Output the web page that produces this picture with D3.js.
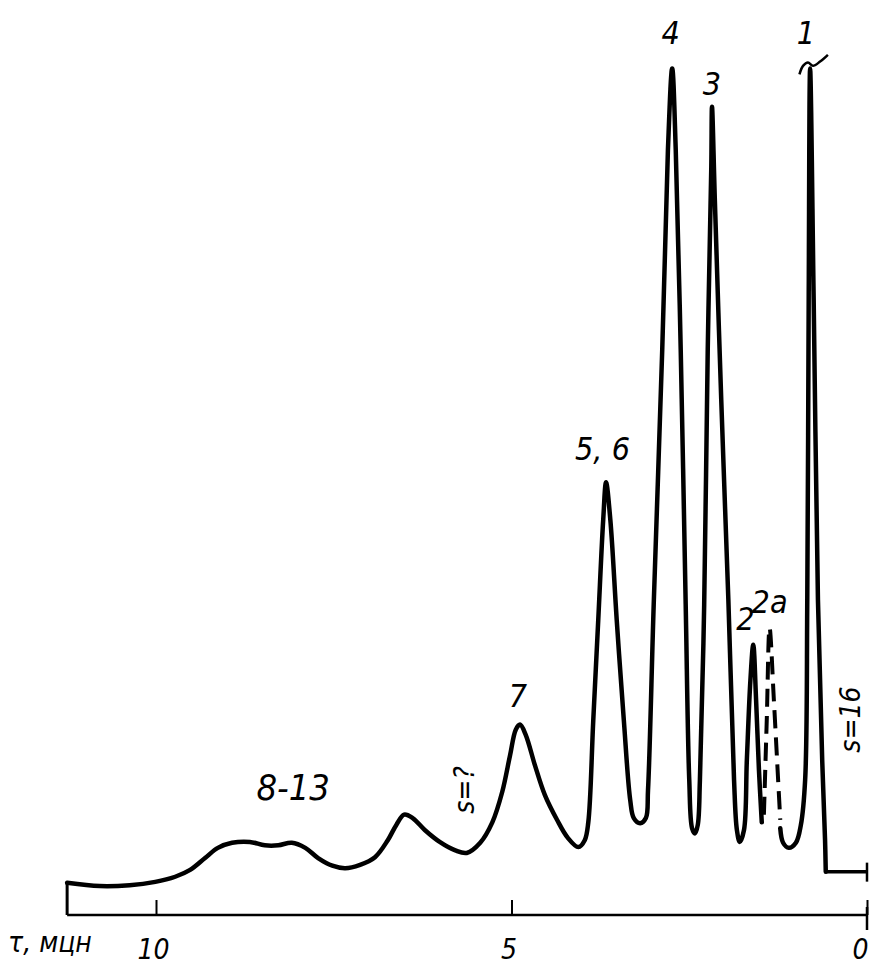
<!DOCTYPE html>
<html>
<head>
<meta charset="utf-8">
<script src="https://cdn.jsdelivr.net/npm/d3@7"></script>
<style>
  body { margin: 0; background: #fff; }
  text { font-family: "DejaVu Sans Condensed", "DejaVu Sans", sans-serif; font-stretch: condensed; font-style: oblique; fill: #000; }
</style>
</head>
<body>
<div id="chart"></div>
<script>
// retention time (min) and detector signal (arbitrary units, 0..100)
var traceMain = [
  [11.25, 3.8], [10.79, 3.4], [10.37, 3.5], [10.01, 3.9], [9.73, 4.5], [9.52, 5.3],
  [9.31, 6.7], [9.13, 7.9], [8.93, 8.5], [8.68, 8.6], [8.47, 8.2], [8.28, 8.2],
  [8.09, 8.5], [7.90, 7.9], [7.72, 6.7], [7.52, 5.8], [7.34, 5.5], [7.13, 5.9],
  [6.92, 6.8], [6.74, 8.8], [6.62, 10.6], [6.51, 11.8], [6.39, 11.4], [6.22, 10.0],
  [6.01, 8.6], [5.79, 7.6], [5.63, 7.3], [5.44, 8.5], [5.27, 10.9], [5.13, 14.5],
  [5.02, 18.8], [4.94, 21.8], [4.88, 22.4], [4.80, 21.2], [4.67, 17.6], [4.53, 14.1],
  [4.36, 11.2], [4.21, 9.1], [4.06, 8.0], [3.97, 8.8], [3.92, 10.9],
  [3.85, 22.9], [3.78, 34.7], [3.71, 46.5], [3.67, 50.9], [3.61, 46.5], [3.52, 34.7],
  [3.42, 22.9], [3.33, 13.5], [3.28, 11.4], [3.19, 10.8], [3.11, 11.4], [3.08, 14.7],
  [3.00, 36.5], [2.88, 66.5], [2.80, 90.0], [2.74, 99.6], [2.69, 90.0], [2.62, 66.5],
  [2.55, 36.5], [2.50, 15.9], [2.46, 10.2], [2.42, 9.6], [2.38, 10.6], [2.35, 15.9],
  [2.29, 36.5], [2.24, 66.5], [2.19, 88.0], [2.18, 95.1], [2.14, 84.1], [2.05, 60.6],
  [1.95, 37.1], [1.87, 15.9], [1.83, 10.0], [1.79, 8.6], [1.73, 10.0], [1.69, 18.2],
  [1.64, 27.6], [1.60, 31.8], [1.56, 25.3], [1.52, 17.1], [1.48, 10.9]
];
var trace2a = [
  [1.45, 11.8], [1.41, 22.9], [1.37, 33.8], [1.31, 25.3], [1.25, 15.9], [1.22, 11.2]
];
var traceTail = [
  [1.22, 10.2], [1.18, 8.5], [1.10, 7.9], [1.00, 8.5], [0.93, 10.6], [0.87, 15.9],
  [0.84, 37.1], [0.82, 72.4], [0.80, 99.6], [0.75, 72.4], [0.69, 37.1], [0.63, 18.2],
  [0.59, 8.8], [0.58, 5.1]
];
var solventStep = [[0.58, 5.1], [0.0, 5.1]];
var peak1Cap = [[0.95, 98.9], [0.90, 99.9], [0.83, 100.3], [0.76, 99.9], [0.66, 100.4], [0.55, 101.2]];

var tickValues = [0, 5, 10];
var axisTitle = 'τ, мцн';

var peakLabels = [
  { text: '1', t: 0.86, v: 102.5 },
  { text: '2', t: 1.71, v: 33.5 },
  { text: '2a', t: 1.37, v: 35.5 },
  { text: '3', t: 2.18, v: 96.5 },
  { text: '4', t: 2.76, v: 102.5 },
  { text: '5, 6', t: 3.72, v: 53.5 },
  { text: '7', t: 4.91, v: 24.5 },
  { text: '8-13', t: 8.07, v: 13.5 }
];
var sideLabels = [
  { text: 's=16', t: 0.24, v: 23.0 },
  { text: 's=?', t: 5.67, v: 14.7 }
];

var width = 872, height = 968;

var svg = d3.select('#chart')
  .append('svg')
  .attr('width', width)
  .attr('height', height);

var x = d3.scaleLinear().domain([0, 10]).range([867, 156]);
var y = d3.scaleLinear().domain([0, 100]).range([915, 65]);

var line = d3.line()
  .x(function (d) { return x(d[0]); })
  .y(function (d) { return y(d[1]); })
  .curve(d3.curveCatmullRom.alpha(0.5));

var straight = d3.line()
  .x(function (d) { return x(d[0]); })
  .y(function (d) { return y(d[1]); });

// time axis
svg.append('line')
  .attr('x1', x(11.25)).attr('x2', x(0))
  .attr('y1', y(0)).attr('y2', y(0))
  .attr('stroke', '#000').attr('stroke-width', 2.5);

var axis = svg.append('g')
  .attr('transform', 'translate(0,' + y(0) + ')')
  .call(d3.axisBottom(x).tickValues(tickValues).tickSizeInner(-15).tickSizeOuter(0).tickPadding(30));
axis.select('.domain').remove();
axis.selectAll('.tick line').attr('stroke', '#000').attr('stroke-width', 2);
axis.selectAll('.tick text')
  .attr('font-size', 28)
  .attr('dy', '0.5em')
  .attr('dx', function (d) { return d === 0 ? -7 : -3; })
  .style('font-family', '"DejaVu Sans Condensed", "DejaVu Sans", sans-serif')
  .style('font-stretch', 'condensed')
  .style('font-style', 'oblique');

// extra downward tick at zero and at the start of the trace
svg.append('line')
  .attr('x1', x(0)).attr('x2', x(0))
  .attr('y1', y(0) - 8).attr('y2', y(0) + 15)
  .attr('stroke', '#000').attr('stroke-width', 2.5);
svg.append('line')
  .attr('x1', x(11.25)).attr('x2', x(11.25))
  .attr('y1', y(traceMain[0][1])).attr('y2', y(0))
  .attr('stroke', '#000').attr('stroke-width', 3);
svg.append('line')
  .attr('x1', x(0)).attr('x2', x(0))
  .attr('y1', y(solventStep[1][1]) - 9).attr('y2', y(solventStep[1][1]) + 10)
  .attr('stroke', '#000').attr('stroke-width', 2.5);

svg.append('text')
  .attr('x', 8).attr('y', 952)
  .attr('font-size', 28)
  .text(axisTitle);

// chromatogram trace
[traceMain, traceTail].forEach(function (seg) {
  svg.append('path')
    .datum(seg)
    .attr('d', line)
    .attr('fill', 'none')
    .attr('stroke', '#000')
    .attr('stroke-width', 4.5)
    .attr('stroke-linejoin', 'round')
    .attr('stroke-linecap', 'round');
});

svg.append('path')
  .datum(trace2a)
  .attr('d', line)
  .attr('fill', 'none')
  .attr('stroke', '#000')
  .attr('stroke-width', 4)
  .attr('stroke-dasharray', '18,9');

svg.append('path')
  .datum(solventStep)
  .attr('d', straight)
  .attr('fill', 'none')
  .attr('stroke', '#000')
  .attr('stroke-width', 3.5);

svg.append('path')
  .datum(peak1Cap)
  .attr('d', line)
  .attr('fill', 'none')
  .attr('stroke', '#000')
  .attr('stroke-width', 2.5);

// labels
svg.selectAll('.peak-label')
  .data(peakLabels)
  .enter()
  .append('text')
  .attr('class', 'peak-label')
  .attr('x', function (d) { return x(d.t); })
  .attr('y', function (d) { return y(d.v); })
  .attr('text-anchor', 'middle')
  .attr('font-size', function (d) { return d.text === '8-13' ? 36 : 32; })
  .text(function (d) { return d.text; });

svg.selectAll('.side-label')
  .data(sideLabels)
  .enter()
  .append('text')
  .attr('class', 'side-label')
  .attr('transform', function (d) {
    return 'translate(' + x(d.t) + ',' + y(d.v) + ') rotate(-90)';
  })
  .attr('text-anchor', 'middle')
  .attr('dy', '0.35em')
  .attr('font-size', 28)
  .text(function (d) { return d.text; });
</script>
</body>
</html>
